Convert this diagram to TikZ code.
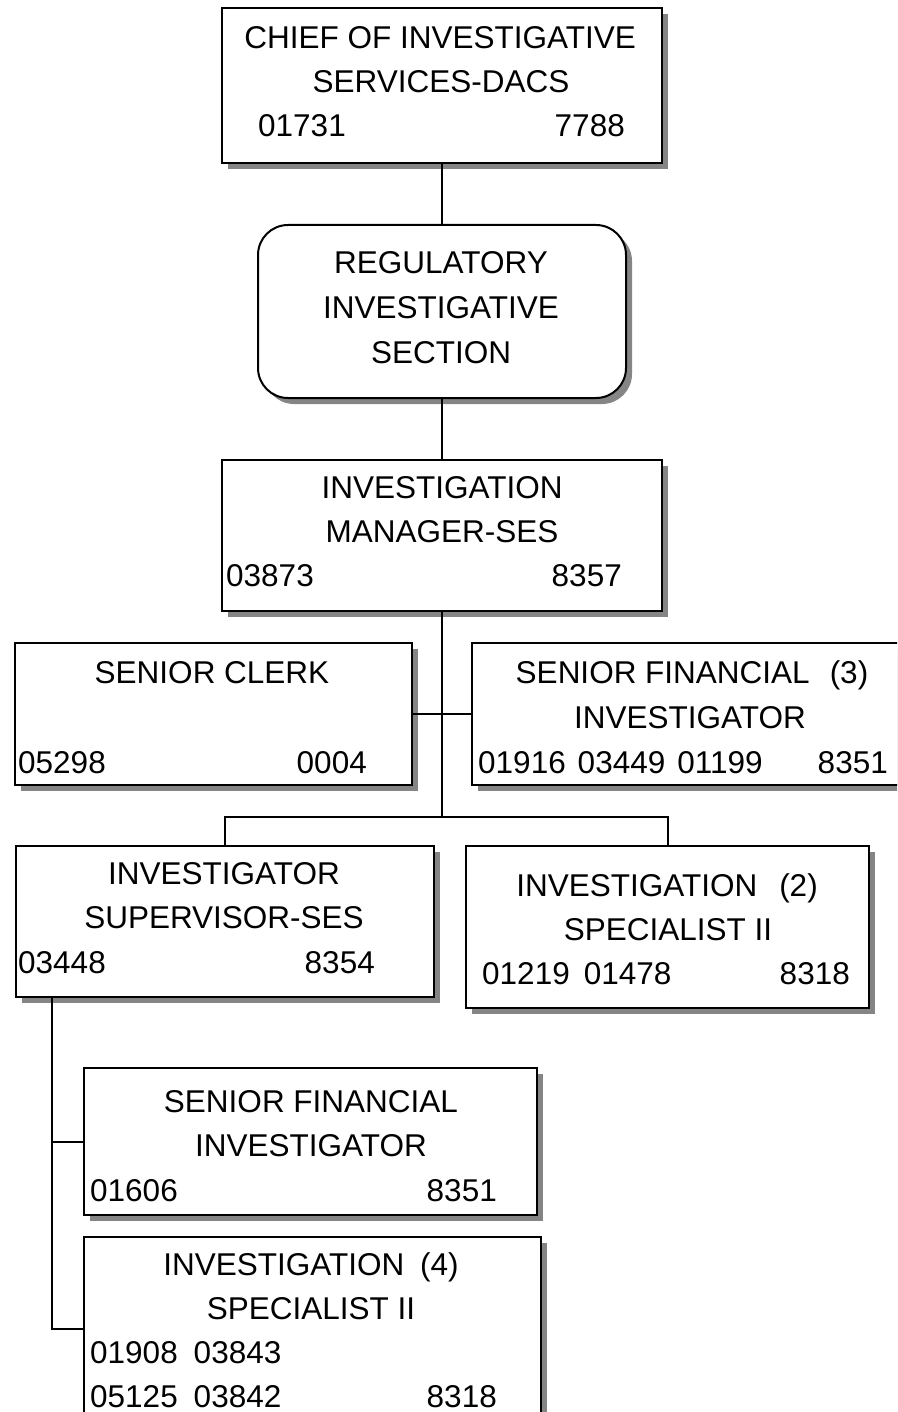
\documentclass[tikz,border=0pt]{standalone}
\usepackage{fontspec}
\setmainfont{Liberation Sans}
\usetikzlibrary{shadows,calc}
\begin{document}
\begin{tikzpicture}[x=1pt,y=-1pt,
  box/.style={draw=black, line width=2pt, fill=white, inner sep=0pt,
    general shadow={fill=black!48, shadow xshift=6pt, shadow yshift=-6pt}},
  conn/.style={draw=black, line width=2pt},
  lbl/.style={inner sep=0pt, anchor=base, font=\fontsize{31.5}{44}\selectfont},
  lw/.style={lbl, anchor=base west},
  le/.style={lbl, anchor=base east}]

\useasboundingbox (0,0) rectangle (897,1412);
\clip (0,0) rectangle (897,1412);

% boxes
\node[box, minimum width=440pt, minimum height=155pt] (chief) at (442,85.5) {};
\node[box, rounded corners=30pt, minimum width=368pt, minimum height=173pt] (reg) at (442,311.5) {};
\node[box, minimum width=440pt, minimum height=151pt] (mgr) at (442,535.5) {};
\node[box, minimum width=397pt, minimum height=142pt] (clerk) at (213.5,714) {};
\node[box, minimum width=528pt, minimum height=142pt] (sfi) at (736,714) {};
\node[box, minimum width=418pt, minimum height=151pt] (sup) at (225,921.5) {};
\node[box, minimum width=403pt, minimum height=162pt] (spec2) at (667.5,927) {};
\node[box, minimum width=453pt, minimum height=147pt] (sfi2) at (310.5,1141.5) {};
\node[box, minimum width=457pt, minimum height=233pt] (spec4) at (312.5,1353.5) {};

% connectors
\coordinate (fork) at (442,817);
\draw[conn] (chief.south) -- (reg.north);
\draw[conn] (reg.south) -- (mgr.north);
\draw[conn] (mgr.south) -- (fork);
\draw[conn] (clerk.east) -- (sfi.west);
\draw[conn] (sup.north) |- (fork) -| (spec2.north);
\draw[conn] ($(sup.south west)+(37,0)$) |- (sfi2.west);
\draw[conn] ($(sup.south west)+(37,0)$) |- ($(spec4.north west)+(0,93)$);

% texts
\node[lbl] (chief1) at (440,49) {CHIEF OF INVESTIGATIVE};
\node[lbl] (chief2) at (441,93) {SERVICES-DACS};
\node[lw] (chiefa) at (258,137) {01731};
\node[le] (chiefb) at (625,137) {7788};

\node[lbl] (reg1) at (441,274) {REGULATORY};
\node[lbl] (reg2) at (441,319) {INVESTIGATIVE};
\node[lbl] (reg3) at (441,363) {SECTION};

\node[lbl] (mgr1) at (442,498) {INVESTIGATION};
\node[lbl] (mgr2) at (442,542) {MANAGER-SES};
\node[lw] (mgra) at (226,586) {03873};
\node[le] (mgrb) at (622,586) {8357};

\node[lbl] (clerk1) at (212,683) {SENIOR CLERK};
\node[lw] (clerka) at (18,773) {05298};
\node[le] (clerkb) at (367,773) {0004};

\node[lbl] (sfi1) at (692,683) {SENIOR FINANCIAL\hspace{20pt}(3)};
\node[lbl] (sfi2t) at (690,728) {INVESTIGATOR};
\node[lw] (sfia) at (478,773) {01916\hspace{12pt}03449\hspace{12pt}01199};
\node[le] (sfib) at (888,773) {8351};

\node[lbl] (sup1) at (224,884) {INVESTIGATOR};
\node[lbl] (sup2) at (224,928) {SUPERVISOR-SES};
\node[lw] (supa) at (18,973) {03448};
\node[le] (supb) at (375,973) {8354};

\node[lbl] (spec21) at (667,896) {INVESTIGATION\hspace{22pt}(2)};
\node[lbl] (spec22) at (668,940) {SPECIALIST II};
\node[lw] (spec2a) at (482,984) {01219\hspace{14pt}01478};
\node[le] (spec2b) at (850,984) {8318};

\node[lbl] (sfi21) at (311,1112) {SENIOR FINANCIAL};
\node[lbl] (sfi22) at (311,1156) {INVESTIGATOR};
\node[lw] (sfi2a) at (90,1201) {01606};
\node[le] (sfi2b) at (497,1201) {8351};

\node[lbl] (spec41) at (311,1275) {INVESTIGATION\hspace{16pt}(4)};
\node[lbl] (spec42) at (311,1319) {SPECIALIST II};
\node[lw] (spec4a) at (90,1363) {01908\hspace{16pt}03843};
\node[lw] (spec4b) at (90,1407) {05125\hspace{16pt}03842};
\node[le] (spec4c) at (497,1407) {8318};
\end{tikzpicture}
\end{document}
